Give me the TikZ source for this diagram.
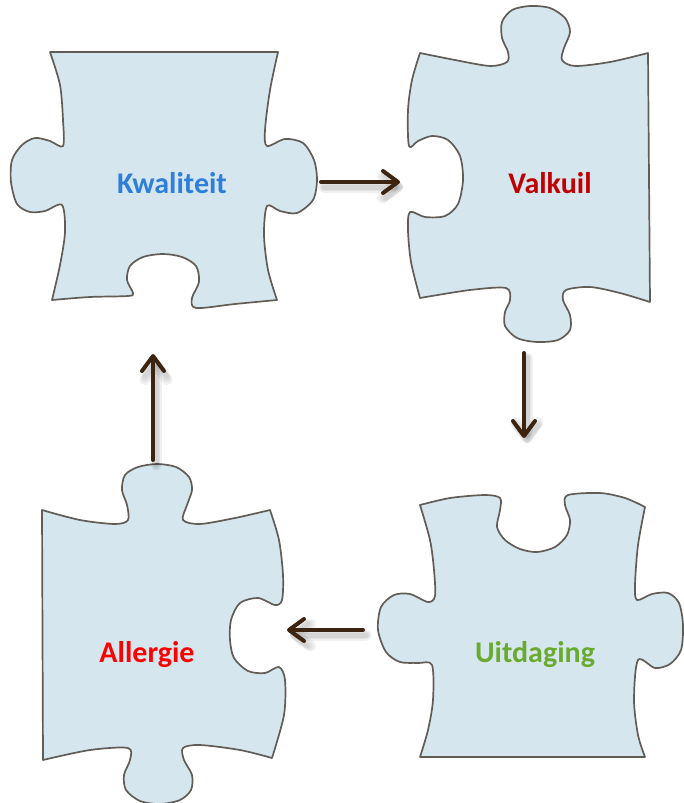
\documentclass[tikz,border=0pt]{standalone}
\usepackage{fontspec}
\setmainfont{Carlito}
\usetikzlibrary{arrows.meta}

\definecolor{piecefill}{HTML}{D6E6EE}
\definecolor{pieceline}{HTML}{625C56}
\definecolor{flowbrown}{HTML}{3D2410}
\definecolor{kwblue}{HTML}{2E7FDA}
\definecolor{vkred}{HTML}{C00000}
\definecolor{alred}{HTML}{FF0000}
\definecolor{uigreen}{HTML}{6AAB2F}

\tikzset{
  piece/.style={fill=piecefill, draw=pieceline, line width=1.7pt, line join=round},
  word/.style={font=\fontsize{30}{36}\selectfont\bfseries},
  flow/.style={draw=flowbrown, line width=4pt, line cap=round,
    -{Straight Barb[length=15pt, width=22pt, round]}},
  flowshadow/.style={draw=black, opacity=0.06, line width=#1, line cap=round,
    -{Straight Barb[length=15pt, width=22pt, round]}},
}

\begin{document}
\begin{tikzpicture}[x=1pt, y=-1pt]
  \useasboundingbox (0,0) rectangle (683,803);

  % 1. puzzelstuk linksboven
  \path[piece] (50,52) -- (278,52)
    -- plot[smooth] coordinates {(278,52) (270,90) (265,130) (267,146) (285,139) (303,143)
       (314,160) (317,180) (313,200) (297,213) (280,211) (267,206) (264,235) (268,270) (277,300)}
    -- plot[smooth] coordinates {(277,300) (235,304) (196,308) (192,298) (199,282) (196,266)
       (182,257) (163,254) (143,257) (130,266) (127,280) (133,293) (128,296) (90,297) (52,300)}
    -- plot[smooth] coordinates {(52,300) (60,265) (65,232) (62,205) (45,211) (30,212) (17,204)
       (11,182) (12,160) (22,145) (35,138) (50,141) (63,146) (63,120) (60,85) (50,52)}
    -- cycle;

  % 2. puzzelstuk rechtsboven
  \path[piece]
    plot[smooth] coordinates {(420,53) (455,60) (490,66) (507,62) (508,52) (502,38) (502,22)
       (512,10) (530,6) (550,8) (565,18) (570,32) (564,48) (562,60) (575,66) (610,62) (648,53)}
    -- (650,302)
    -- plot[smooth] coordinates {(650,302) (620,293) (590,287) (566,290) (563,300) (570,315)
       (570,330) (558,340) (537,342) (517,338) (505,326) (505,312) (510,300) (506,288) (470,290) (420,298)}
    -- plot[smooth] coordinates {(420,298) (411,262) (408,230) (410,212) (425,217) (445,216)
       (458,204) (463,180) (460,156) (448,140) (432,136) (418,141) (409,146) (408,110) (412,80) (420,53)}
    -- cycle;

  % 3. puzzelstuk linksonder
  \path[piece]
    plot[smooth] coordinates {(42,510) (80,520) (115,524) (128,520) (127,505) (122,490) (125,475)
       (138,467) (157,464) (176,467) (189,477) (192,490) (187,505) (183,520) (200,524) (235,518) (270,510)}
    -- plot[smooth] coordinates {(270,510) (279,540) (283,575) (282,600) (275,605) (258,598)
       (240,603) (231,620) (230,640) (234,658) (248,671) (265,673) (279,667) (285,680) (284,715) (272,758)}
    -- plot[smooth] coordinates {(272,758) (240,750) (200,745) (183,748) (184,760) (192,775)
       (191,790) (180,800) (160,804) (140,801) (126,790) (124,775) (130,760) (128,748) (90,750) (43,760)}
    -- cycle;

  % 4. puzzelstuk rechtsonder
  \path[piece]
    plot[smooth] coordinates {(420,505) (450,498) (485,495) (500,498) (500,510) (497,527) (505,540)
       (520,549) (537,552) (555,547) (567,535) (570,520) (565,505) (568,495) (600,493) (625,498) (645,507)}
    -- plot[smooth] coordinates {(645,507) (638,545) (635,585) (637,600) (652,594) (668,593)
       (679,603) (683,625) (681,650) (670,664) (655,668) (638,660) (634,700) (638,735) (645,757)}
    -- (420,757)
    -- plot[smooth] coordinates {(420,757) (428,730) (433,700) (432,665) (418,663) (400,662)
       (386,652) (378,630) (381,607) (394,595) (410,594) (428,602) (435,596) (434,570) (430,540) (420,505)}
    -- cycle;

  % labels
  \node[word, text=kwblue]  (kwaliteit) at (172,183) {Kwaliteit};
  \node[word, text=vkred]   (valkuil)   at (550,183) {Valkuil};
  \node[word, text=uigreen] (uitdaging) at (535,655) {Uitdaging};
  \node[word, text=alred]   (allergie)  at (147,655) {Allergie};

  % eindpunten van de pijlen
  \coordinate (kw-out) at (321,182);
  \coordinate (vk-in)  at (400,182);
  \coordinate (vk-out) at (524,353);
  \coordinate (ui-in)  at (524,438);
  \coordinate (ui-out) at (363,630);
  \coordinate (al-in)  at (287,630);
  \coordinate (al-out) at (153,460);
  \coordinate (kw-in)  at (153,354);

  % zachte schaduw onder de pijlen
  \foreach \a/\b in {kw-out/vk-in, vk-out/ui-in, ui-out/al-in, al-out/kw-in}
    \foreach \w in {5pt,8pt,11pt}
      \draw[flowshadow=\w] ([shift={(3,5)}]\a) -- ([shift={(3,5)}]\b);

  % de cyclus
  \draw[flow] (kw-out) -- (vk-in);
  \draw[flow] (vk-out) -- (ui-in);
  \draw[flow] (ui-out) -- (al-in);
  \draw[flow] (al-out) -- (kw-in);
\end{tikzpicture}
\end{document}
